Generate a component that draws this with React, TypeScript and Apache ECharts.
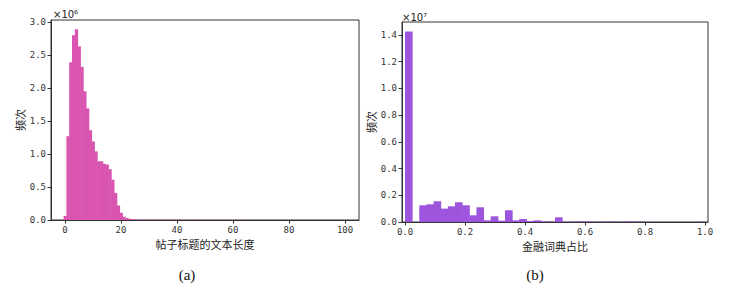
import React, { useEffect, useRef } from "react";
import * as echarts from "echarts";

// Histogram (a): counts per title length (index = length, units ×10^6)
const titleLenCounts = [
  0.06, 1.27, 2.39, 2.8, 2.89, 2.63, 2.32, 1.95, 1.69, 1.36,
  1.19, 1.04, 0.89, 0.89, 0.85, 0.84, 0.77, 0.61, 0.41, 0.22,
  0.11, 0.05, 0.03, 0.018, 0.012, 0.008, 0.006, 0.005, 0.004, 0.004,
  0.004, 0.004, 0.003, 0.003, 0.003, 0.003, 0.003, 0.003, 0.003, 0.003,
  0.003, 0.002, 0.002, 0.002, 0.002, 0.002, 0.002, 0.002, 0.002, 0.002,
  0.002, 0.002, 0.002, 0.002, 0.002, 0.002, 0.002, 0.002, 0.002, 0.002,
  0.002, 0.002, 0.002, 0.002, 0.002, 0.002, 0.001, 0.001, 0.001, 0.001,
  0.001, 0.001, 0.001, 0.001, 0.001, 0.001, 0.001, 0.001, 0.001, 0.001,
  0.001, 0.001, 0.001, 0.001, 0.001, 0.001, 0.001, 0.001, 0.001, 0.001,
  0.001, 0.001, 0.001, 0.001, 0.001, 0.001, 0.001, 0.001, 0.001, 0.001,
  0.001,
];

// Histogram (b): counts per financial-dictionary ratio bin (42 bins over [0,1], units ×10^7)
const finRatioCounts = [
  1.425, 0, 0.125, 0.1325, 0.155, 0.1, 0.1175, 0.1475, 0.125, 0.05,
  0.11, 0.0125, 0.0425, 0.01, 0.0875, 0.0125, 0.0225, 0.0075, 0.0125, 0.005,
  0.003, 0.035, 0.002, 0.003, 0.004, 0.004, 0.002, 0.002, 0.004, 0.002,
  0.002, 0.004, 0.003, 0.001, 0.001, 0.001, 0.001, 0.001, 0.001, 0.001,
  0.001, 0.002,
];
const FIN_BINS = 42;

const leftXTicks = [0, 20, 40, 60, 80, 100];
const leftYTicks = [0, 0.5, 1.0, 1.5, 2.0, 2.5, 3.0];
const rightXTicks = [0, 0.2, 0.4, 0.6, 0.8, 1.0];
const rightYTicks = [0, 0.2, 0.4, 0.6, 0.8, 1.0, 1.2, 1.4];

export default function App() {
  const ref = useRef<HTMLDivElement>(null);

  useEffect(() => {
    const chart = echarts.init(ref.current!, null, { renderer: "svg" });
    const tickFont = () => ({ fontFamily: "'DejaVu Sans Mono', monospace", fontSize: 9, color: "#333" });
    const nameFont = () => ({ fontFamily: "'Noto Sans CJK SC', sans-serif", fontSize: 11, color: "#222" });
    const line = () => ({ show: true, onZero: false, lineStyle: { color: "#333", width: 1 } });
    const axisTick = (vals: number[]) => ({ show: true, inside: false, length: 3.5, lineStyle: { color: "#333", width: 1 }, customValues: vals });
    const fmt1 = (v: number) => v.toFixed(1);
    const histItem = (width: number, color: string) => (params: any, api: any) => {
      const x = api.value(0);
      const y = api.value(1);
      const p1 = api.coord([x, y]);
      const p2 = api.coord([x + width, 0]);
      return {
        type: "rect",
        shape: { x: p1[0], y: p1[1], width: p2[0] - p1[0] + 0.5, height: p2[1] - p1[1] },
        style: { fill: color },
      };
    };
    const leftData = titleLenCounts.map((v, i) => [i - 0.5, v]);
    const rightData = finRatioCounts.map((v, i) => [i / FIN_BINS, v]);

    chart.setOption({
      animation: false,
      grid: [
        { left: 51, top: 20, width: 308, height: 200, show: true, borderColor: "#333", borderWidth: 1 },
        { left: 402, top: 22, width: 306, height: 200, show: true, borderColor: "#333", borderWidth: 1 },
      ],
      xAxis: [
        { type: "value", gridIndex: 0, min: -5, max: 105, axisLine: line(), axisTick: axisTick(leftXTicks), axisLabel: { ...tickFont(), customValues: leftXTicks, margin: 5 }, splitLine: { show: false }, name: "帖子标题的文本长度", nameLocation: "middle", nameGap: 17, nameTextStyle: nameFont() },
        { type: "value", gridIndex: 1, min: -0.01, max: 1.01, axisLine: line(), axisTick: axisTick(rightXTicks), axisLabel: { ...tickFont(), customValues: rightXTicks, formatter: fmt1, margin: 5 }, splitLine: { show: false }, name: "金融词典占比", nameLocation: "middle", nameGap: 17, nameTextStyle: nameFont() },
      ],
      yAxis: [
        { type: "value", gridIndex: 0, min: 0, max: 3.03, axisLine: line(), axisTick: axisTick(leftYTicks), axisLabel: { ...tickFont(), customValues: leftYTicks, formatter: fmt1, margin: 5 }, splitLine: { show: false }, name: "频次", nameLocation: "middle", nameGap: 23, nameRotate: 90, nameTextStyle: nameFont() },
        { type: "value", gridIndex: 1, min: 0, max: 1.496, axisLine: line(), axisTick: axisTick(rightYTicks), axisLabel: { ...tickFont(), customValues: rightYTicks, formatter: fmt1, margin: 5 }, splitLine: { show: false }, name: "频次", nameLocation: "middle", nameGap: 23, nameRotate: 90, nameTextStyle: nameFont() },
      ],
      series: [
        { type: "custom", xAxisIndex: 0, yAxisIndex: 0, renderItem: histItem(1, "#DA55B0"), data: leftData, silent: true },
        { type: "custom", xAxisIndex: 1, yAxisIndex: 1, renderItem: histItem(1 / FIN_BINS, "#9C55DC"), data: rightData, silent: true },
      ],
      graphic: [
        { type: "text", x: 53, y: 14, style: { text: "×10⁶", fontFamily: "'DejaVu Sans', sans-serif", fontSize: 10, fill: "#222", verticalAlign: "middle" } },
        { type: "text", x: 402, y: 17, style: { text: "×10⁷", fontFamily: "'DejaVu Sans', sans-serif", fontSize: 10, fill: "#222", verticalAlign: "middle" } },
        { type: "text", x: 187, y: 275, style: { text: "(a)", fontFamily: "'Liberation Serif', 'DejaVu Serif', serif", fontSize: 15, fill: "#111", align: "center", verticalAlign: "middle" } },
        { type: "text", x: 535, y: 275, style: { text: "(b)", fontFamily: "'Liberation Serif', 'DejaVu Serif', serif", fontSize: 15, fill: "#111", align: "center", verticalAlign: "middle" } },
      ],
    });
    return () => chart.dispose();
  }, []);

  return <div ref={ref} style={{ position: "fixed", left: 0, top: 0, width: 745, height: 286, background: "#fff" }} />;
}
